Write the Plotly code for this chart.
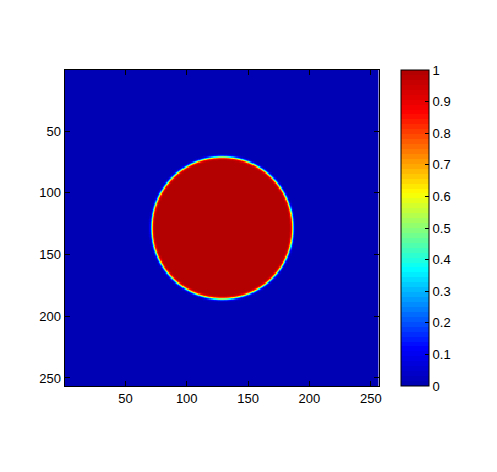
import numpy as np
import plotly.graph_objects as go

# image parameters (pixel units of the 256x256 image)
n_pix = 256
center_x = 129
center_y = 128.5
radius = 57.5
edge_width = 1.4

x_ticks = [50, 100, 150, 200, 250]
y_ticks = [50, 100, 150, 200, 250]
cbar_ticks = [0, 0.1, 0.2, 0.3, 0.4, 0.5, 0.6, 0.7, 0.8, 0.9, 1]
cbar_labels = ["0", "0.1", "0.2", "0.3", "0.4", "0.5", "0.6", "0.7", "0.8", "0.9", "1"]

# smoothed disc (level-set style heaviside)
px = np.arange(1, n_pix + 1)
xx, yy = np.meshgrid(px, px)
dist = np.sqrt((xx - center_x) ** 2 + (yy - center_y) ** 2)
z = 0.5 * (1 + np.tanh((radius - dist) / edge_width))

# jet-like anchors, as seen on the colorbar
anchors = [(0.0, (0, 0, 175)), (0.12, (0, 0, 255)), (0.37, (0, 255, 255)),
           (0.61, (255, 255, 0)), (0.865, (255, 0, 0)), (1.0, (175, 0, 0))]


def jet(v):
    for (a, ca), (b, cb) in zip(anchors[:-1], anchors[1:]):
        if v <= b:
            t = (v - a) / (b - a)
            return [ca[k] + t * (cb[k] - ca[k]) for k in range(3)]
    return list(anchors[-1][1])


# 64 discrete levels like a matlab colormap
n_lev = 64
scale = []
for i in range(n_lev):
    r, g, b = jet((i + 0.5) / n_lev)
    col = "rgb(%d,%d,%d)" % (r, g, b)
    scale.append([i / n_lev, col])
    scale.append([(i + 1) / n_lev, col])

W, H = 497, 472
dx, dy = 7, 7  # page offset of the plot div

fig = go.Figure()
fig.add_trace(go.Heatmap(
    z=z, x=px, y=px, zmin=0, zmax=1, colorscale=scale,
    colorbar=dict(
        x=(402 - dx) / W, xanchor="left", y=1 - (69 - dy) / H, yanchor="top",
        len=316 / H, lenmode="fraction", thickness=28, thicknessmode="pixels",
        outlinewidth=1, outlinecolor="black", xpad=0, ypad=0,
        tickvals=cbar_ticks, ticktext=cbar_labels, ticks="inside", ticklen=4,
        tickcolor="black", tickfont=dict(size=13, color="black"),
    ),
))

axis_style = dict(
    showline=True, linecolor="black", linewidth=1, mirror="ticks",
    ticks="inside", ticklen=5, tickcolor="black", showgrid=False, zeroline=False,
    tickfont=dict(size=13, color="black"),
)
fig.update_xaxes(range=[0.5, n_pix + 0.5], tickvals=x_ticks,
                 domain=[(64 - dx) / W, (380 - dx) / W], **axis_style)
fig.update_yaxes(range=[n_pix + 0.5, 0.5], tickvals=y_ticks,
                 domain=[1 - (385 - dy) / H, 1 - (69 - dy) / H], **axis_style)

fig.update_layout(
    width=W, height=H, margin=dict(l=0, r=0, t=0, b=0),
    paper_bgcolor="white", plot_bgcolor="white",
    font=dict(family="Liberation Sans, Arial, sans-serif"),
)

fig.write_html("out.html")
